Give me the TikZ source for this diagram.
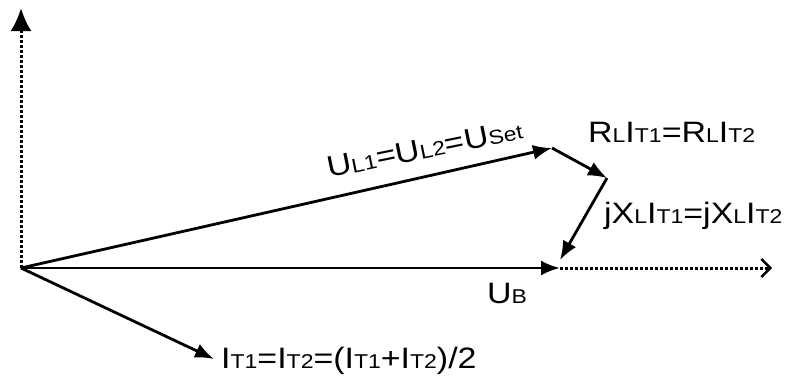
\documentclass[tikz,border=0pt]{standalone}
\usepackage{fontspec}
\setmainfont[FakeStretch=1.15]{Liberation Sans}
\usetikzlibrary{arrows.meta}
\newcommand\sbs[1]{{\fontsize{20}{20}\selectfont #1}}
\begin{document}
\begin{tikzpicture}[x=1pt,y=-1pt,
  vec/.style={line width=2.8pt,-{Latex[length=19pt,width=15pt]}},
  axis/.style={line width=3pt,dotted},
  lbl/.style={font=\fontsize{29.5}{29.5}\selectfont, inner sep=0pt, anchor=base west}]
\useasboundingbox (0,0) rectangle (787,376);
\coordinate (O) at (21,268);
\coordinate (Y) at (21,8);
\coordinate (B) at (560,268);
\coordinate (X) at (772,268);
\coordinate (L) at (552,148);
\coordinate (R) at (607,178);
\coordinate (J) at (560,260);
\coordinate (I) at (214,359);
\draw[axis,-{Latex[length=23pt,width=21pt]}] (O) -- (Y);
\draw[axis,-{Straight Barb[length=9pt,width=18pt,line width=2.4pt]}] (B) -- (X);
\draw[vec] (O) -- (B);
\draw[vec] (O) -- (L);
\draw[vec] (L) -- (R);
\draw[vec] (R) -- (J);
\draw[vec] (O) -- (I);
\node[lbl,rotate=11.5] (tL) at (329,178) {U\sbs{L1}=U\sbs{L2}=U\sbs{Set}};
\node[lbl] (tR) at (588,142) {R\sbs{L}I\sbs{T1}=R\sbs{L}I\sbs{T2}};
\node[lbl] (tJ) at (604,223) {jX\sbs{L}I\sbs{T1}=jX\sbs{L}I\sbs{T2}};
\node[lbl] (tB) at (487,303) {U\sbs{B}};
\node[lbl] (tI) at (221,368) {I\sbs{T1}=I\sbs{T2}=(I\sbs{T1}+I\sbs{T2})/2};
\end{tikzpicture}
\end{document}
